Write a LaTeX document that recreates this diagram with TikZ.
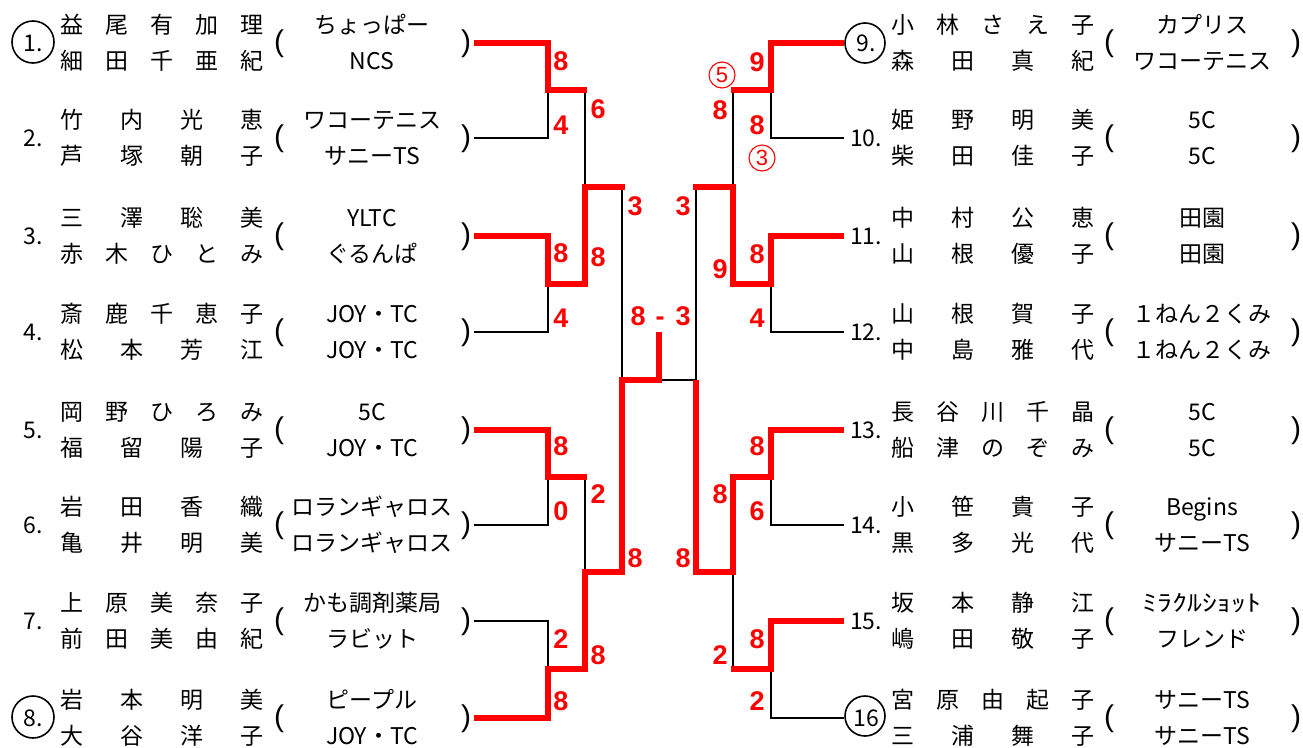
\documentclass[tikz,border=0pt]{standalone}
\usepackage{fontspec}
\usepackage{graphicx}
\setmainfont{Noto Sans CJK JP}
\newfontfamily\scorefont{Liberation Sans}
\definecolor{rd}{RGB}{255,0,0}
\tikzset{
  txt/.style={font=\fontsize{23}{23}\selectfont, inner sep=0pt, anchor=base},
  par/.style={font=\scorefont\fontsize{30}{30}\selectfont, inner sep=0pt, anchor=base},
  sc/.style={font=\scorefont\bfseries\fontsize{27}{27}\selectfont, text=rd, inner sep=0pt, anchor=base},
  circ/.style={circle, draw=rd, line width=1.1pt, minimum size=26pt, inner sep=0pt,
    text=rd, font=\scorefont\fontsize{22}{22}\selectfont},
  blk/.style={line width=2pt, black},
  win/.style={line width=6pt, rd, line join=miter},
  ring/.style={line width=1.6pt, black}
}
\newcommand\nameline[5]{%
  \pgfmathsetmacro\gp{180/(#4-1)}%
  \foreach \c [count=\i from 0] in {#5}{%
    \node[txt] (#1-\i) at ({#2+\i*\gp},#3) {\c};
  }%
}
\newcommand\entry[9]{%
  \node[txt] (#1num) at (\nx,#2+8) {#3};
  \nameline{#1a}{\fx}{#2-10}{#4}{#5}
  \nameline{#1b}{\fx}{#2+26}{#6}{#7}
  \node[par] (#1lp) at (\lpx,#2+8) {(};
  \node[par] (#1rp) at (\rpx,#2+8) {)};
  \node[txt] (#1ca) at (\cx,#2-10) {#8};
  \node[txt] (#1cb) at (\cx,#2+26) {#9};
}
\begin{document}
\begin{tikzpicture}[x=1pt,y=-1pt]
\useasboundingbox (0,0) rectangle (1303,747);
\fill[white] (0,0) rectangle (1303,747);

% ---------- black bracket ----------
\foreach \a/\b/\m in {43/138/90, 236/332/284, 430/525/477, 621/718/669}{
  \draw[blk] (474,\a) -| (548,\m) |- (474,\b);
  \draw[blk] (548,\m) -- (585,\m);
  \draw[blk] (844,\a) -| (771,\m) |- (844,\b);
  \draw[blk] (771,\m) -- (733,\m);
}
\foreach \a/\b/\m in {90/284/187, 477/669/572}{
  \draw[blk] (585,\a) -- (585,\b);
  \draw[blk] (585,\m) -- (622,\m);
  \draw[blk] (733,\a) -- (733,\b);
  \draw[blk] (733,\m) -- (696,\m);
}
\draw[blk] (622,187) -- (622,572);
\draw[blk] (696,187) -- (696,572);
\draw[blk] (622,380) -- (696,380);

% ---------- winners (red) ----------
\draw[win] (474,43) -| (548,90) -- (587,90);
\draw[win] (474,236) -| (548,284) -- (585,284) |- (625,187);
\draw[win] (474,430) -| (548,477) -- (587,477);
\draw[win] (474,718) -| (548,669) -- (585,669) |- (622,572) |- (659,380) -- (659,332);
\draw[win] (844,43) -| (771,90) -- (731,90);
\draw[win] (844,236) -| (771,284) -- (733,284) |- (693,187);
\draw[win] (844,430) -| (771,477) -- (733,477) |- (696,572) -- (696,380);
\draw[win] (844,621) -| (771,669) -- (731,669);

% ---------- entries, left ----------
\def\nx{33}\def\fx{72}\def\cx{372}\def\lpx{279}\def\rpx{466}
\entry{e1}{43}{1.}{5}{益,尾,有,加,理}{5}{細,田,千,亜,紀}{ちょっぱー}{NCS}
\entry{e2}{138}{2.}{4}{竹,内,光,恵}{4}{芦,塚,朝,子}{ワコーテニス}{サニーTS}
\entry{e3}{236}{3.}{4}{三,澤,聡,美}{5}{赤,木,ひ,と,み}{YLTC}{ぐるんぱ}
\entry{e4}{332}{4.}{5}{斎,鹿,千,恵,子}{4}{松,本,芳,江}{JOY・TC}{JOY・TC}
\entry{e5}{430}{5.}{5}{岡,野,ひ,ろ,み}{4}{福,留,陽,子}{5C}{JOY・TC}
\entry{e6}{525}{6.}{4}{岩,田,香,織}{4}{亀,井,明,美}{ロランギャロス}{ロランギャロス}
\entry{e7}{621}{7.}{5}{上,原,美,奈,子}{5}{前,田,美,由,紀}{かも調剤薬局}{ラビット}
\entry{e8}{718}{8.}{4}{岩,本,明,美}{4}{大,谷,洋,子}{ピープル}{JOY・TC}

% ---------- entries, right ----------
\def\nx{866}\def\fx{903}\def\cx{1202}\def\lpx{1109}\def\rpx{1296}
\entry{e9}{43}{9.}{5}{小,林,さ,え,子}{4}{森,田,真,紀}{カプリス}{ワコーテニス}
\entry{e10}{138}{10.}{4}{姫,野,明,美}{4}{柴,田,佳,子}{5C}{5C}
\entry{e11}{236}{11.}{4}{中,村,公,恵}{4}{山,根,優,子}{田園}{田園}
\entry{e12}{332}{12.}{4}{山,根,賀,子}{4}{中,島,雅,代}{１ねん２くみ}{１ねん２くみ}
\entry{e13}{430}{13.}{5}{長,谷,川,千,晶}{5}{船,津,の,ぞ,み}{5C}{5C}
\entry{e14}{525}{14.}{4}{小,笹,貴,子}{4}{黒,多,光,代}{Begins}{サニーTS}
\entry{e15}{621}{15.}{4}{坂,本,静,江}{4}{嶋,田,敬,子}{\scalebox{1.3}[1]{ﾐﾗｸﾙｼｮｯﾄ}}{フレンド}
\entry{e16}{718}{16}{5}{宮,原,由,起,子}{4}{三,浦,舞,子}{サニーTS}{サニーTS}

% ---------- seed rings ----------
\draw[ring] (33,42) circle[radius=21pt];
\draw[ring] (33,717) circle[radius=21pt];
\draw[ring] (865,43) circle[radius=20pt];
\draw[ring] (865,716) circle[radius=20pt];

% ---------- scores ----------
\foreach \x/\y/\t [count=\k] in {
  561/60/8, 561/124/4, 561/252/8, 561/317/4, 561/445/8, 561/510/0, 561/638/2, 561/700/8,
  598/108/6, 598/256/8, 598/493/2, 598/654/8,
  635/205/3, 635/557/8,
  638/315/8, 660/315/-, 683/315/3,
  757/61/9, 757/124/8, 757/253/8, 757/317/4, 757/445/8, 757/510/6, 757/638/8, 757/700/2,
  720/109/8, 720/268/9, 720/493/8, 720/654/2,
  683/205/3, 683/557/8}{
  \node[sc] (s\k) at (\x,\y+10) {\t};
}
\node[circ] (c5) at (722,75) {5};
\node[circ] (c3) at (762,158) {3};
\end{tikzpicture}
\end{document}
